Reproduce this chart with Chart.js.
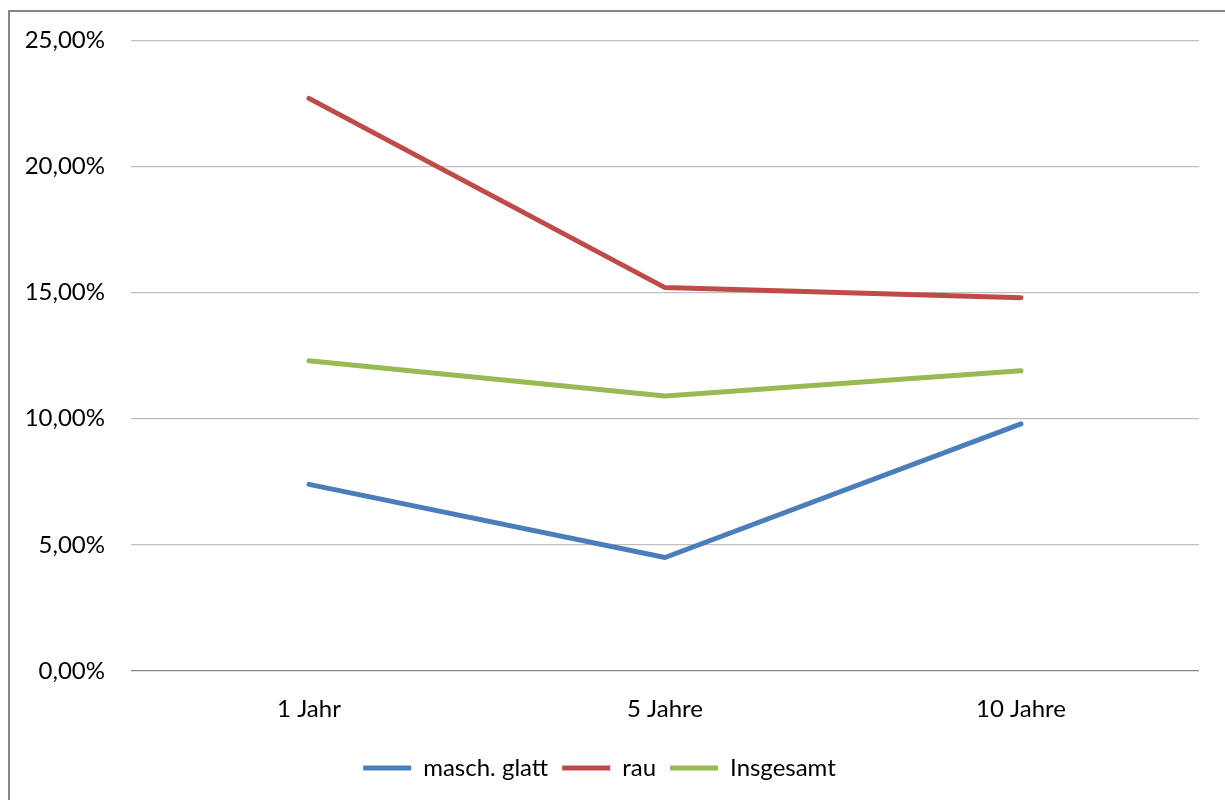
<!DOCTYPE html>
<html>
<head>
<meta charset="utf-8">
<script src="https://cdn.jsdelivr.net/npm/chart.js@4/dist/chart.umd.min.js"></script>
<style>
  html, body { margin: 0; padding: 0; background: #fff; }
  #wrap { position: relative; width: 1225px; height: 800px; }
</style>
</head>
<body>
<div id="wrap"><canvas id="c" width="1225" height="800"></canvas></div>
<script>
// Zeiträume und Anteile je Oberflächenart (in Prozent)
const categories = ['1 Jahr', '5 Jahre', '10 Jahre'];
const maschGlatt = [7.4, 4.5, 9.8];
const rau = [22.7, 15.2, 14.8];
const insgesamt = [12.3, 10.9, 11.9];
const seriesNames = ['masch. glatt', 'rau', 'Insgesamt'];
const yTicks = [0, 5, 10, 15, 20, 25];

const FONT = 'Lato, "Open Sans", "Liberation Sans", sans-serif';

// Rahmen des Diagrammbereichs (links und oben)
const framePlugin = {
  id: 'frame',
  beforeDraw(chart) {
    const ctx = chart.ctx;
    ctx.save();
    ctx.fillStyle = '#fff';
    ctx.fillRect(0, 0, chart.width, chart.height);
    ctx.strokeStyle = '#878787';
    ctx.lineWidth = 2;
    ctx.beginPath();
    ctx.moveTo(9, chart.height);
    ctx.lineTo(9, 11);
    ctx.lineTo(chart.width, 11);
    ctx.stroke();
    ctx.restore();
  }
};

const fmt = v => v.toFixed(2).replace('.', ',') + '%';

const line = (label, data, color) => ({
  label, data, borderColor: color, backgroundColor: color, borderWidth: 5
});

new Chart(document.getElementById('c'), {
  type: 'line',
  data: {
    labels: categories,
    datasets: [
      line(seriesNames[0], maschGlatt, '#4a7ebb'),
      line(seriesNames[1], rau, '#be4b48'),
      line(seriesNames[2], insgesamt, '#98b954')
    ]
  },
  options: {
    responsive: false,
    animation: false,
    layout: { padding: { top: 40, right: 26, bottom: 10, left: 0 } },
    elements: {
      line: { tension: 0, borderCapStyle: 'round', borderJoinStyle: 'round' },
      point: { radius: 0, hoverRadius: 0 }
    },
    plugins: {
      tooltip: { enabled: false },
      legend: {
        position: 'bottom',
        labels: {
          font: { family: FONT, size: 24 },
          color: '#000',
          usePointStyle: true,
          pointStyle: 'line',
          pointStyleWidth: 48,
          boxHeight: 24,
          padding: 14
        }
      }
    },
    scales: {
      x: {
        offset: true,
        grid: { display: false, drawTicks: false },
        border: { display: false },
        ticks: { font: { family: FONT, size: 24 }, color: '#000', padding: 24 },
        afterFit(s) { s.height = 71; }
      },
      y: {
        min: 0,
        max: 25,
        afterBuildTicks(s) { s.ticks = yTicks.map(v => ({ value: v })); },
        grid: {
          drawTicks: false,
          lineWidth: 1.3,
          color: ctx => ctx.tick && ctx.tick.value === 0 ? '#878787' : '#c0c0c0'
        },
        border: { display: false },
        ticks: { font: { family: FONT, size: 24 }, color: '#000', padding: 26, callback: v => fmt(v) },
        afterFit(s) { s.width = 131; }
      }
    }
  },
  plugins: [framePlugin]
});
</script>
</body>
</html>
